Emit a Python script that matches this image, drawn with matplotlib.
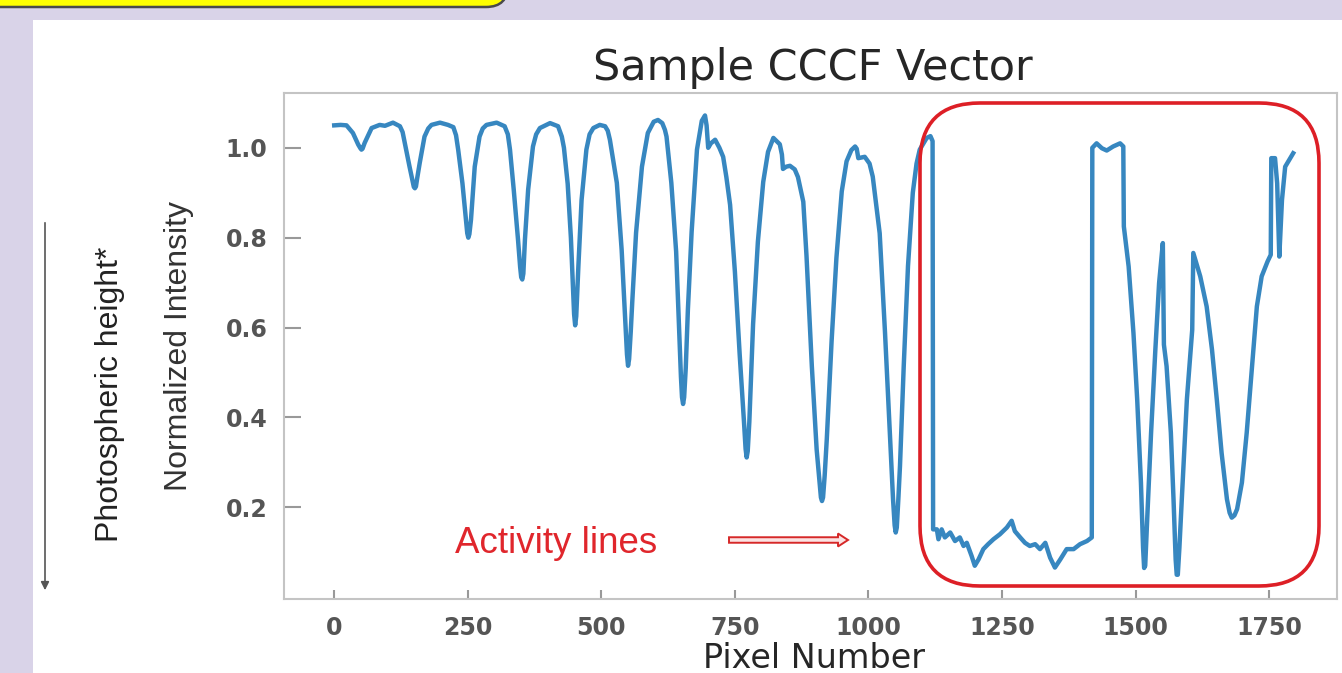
import matplotlib
matplotlib.use("Agg")
import matplotlib.pyplot as plt
from matplotlib.patches import FancyBboxPatch, Rectangle, FancyArrow, FancyArrowPatch

# values
pixel_number = [
    0, 12, 23, 35, 45, 49, 51, 53, 57, 70, 85, 95, 110, 123, 128, 132, 141, 147, 149, 151, 153,
    155, 160, 169, 176, 182,
    198, 213, 223, 228, 232, 240, 247, 249, 251, 253, 256, 263, 272, 278, 285, 304, 319, 325,
    329, 336, 344, 348, 350, 352, 354,
    357, 363, 372, 378, 385, 404, 419, 426, 430, 437, 443, 447, 449, 451, 453, 457, 463, 472,
    478, 485, 497, 507,
    512, 516, 529, 538, 546, 548, 550, 552, 555, 558, 565, 576, 587, 598, 606, 614, 619, 622,
    631, 640, 646, 649, 651, 653, 655, 658, 662, 669, 679, 688, 694, 697, 700, 705, 713, 721,
    728, 734, 741, 750, 759, 767, 770, 772, 774,
    777, 784, 793, 803, 812, 822, 834, 838, 840, 846, 853, 862, 868, 878, 884, 894, 903, 909,
    911, 913, 915, 918, 922, 931, 940, 950, 959, 968, 975, 978, 981, 993, 1002, 1008, 1021,
    1031, 1040, 1046, 1049,
    1051, 1053, 1056, 1059, 1066, 1074, 1083, 1090, 1096, 1109, 1116, 1120, 1121,
    1128, 1131, 1137, 1143, 1153, 1162, 1171, 1178, 1184, 1193, 1199, 1206, 1215, 1224, 1234,
    1246, 1259, 1268, 1274, 1284, 1293, 1302, 1312, 1321, 1331, 1340, 1349, 1359, 1371, 1384,
    1396, 1409, 1418, 1419, 1427, 1437, 1446, 1458, 1471, 1477, 1478, 1487, 1496, 1503, 1510,
    1514, 1516, 1518, 1522, 1529, 1537, 1544, 1551, 1553, 1558, 1566, 1571, 1575, 1577, 1579,
    1582, 1587, 1596,
    1606, 1608, 1621, 1633, 1643, 1652, 1661, 1671, 1676, 1680, 1685, 1690, 1699, 1708, 1718,
    1727, 1736, 1747, 1753, 1754, 1761, 1765, 1769, 1774, 1780, 1795,
]
intensity = [
    1.050, 1.051, 1.050, 1.033, 1.007, 0.999, 0.996, 0.998, 1.011, 1.044, 1.051, 1.049, 1.056,
    1.048, 1.035, 1.011, 0.958, 0.925, 0.913, 0.910, 0.914, 0.930, 0.966, 1.025, 1.043, 1.051,
    1.056, 1.051, 1.046, 1.028, 0.996, 0.921, 0.833, 0.810, 0.800, 0.808, 0.840, 0.958, 1.025,
    1.043, 1.051, 1.056, 1.048, 1.030, 0.996, 0.907, 0.796, 0.735, 0.712, 0.707, 0.720,
    0.796, 0.907, 1.003, 1.030, 1.044, 1.055, 1.048, 1.025, 1.000, 0.920, 0.800, 0.690, 0.630,
    0.605, 0.625, 0.736, 0.884, 0.996, 1.030, 1.044, 1.051, 1.048,
    1.038, 1.018, 0.922, 0.773, 0.589, 0.540, 0.515, 0.530, 0.590, 0.660, 0.811, 0.958, 1.033,
    1.058, 1.062, 1.055, 1.040, 1.025, 0.922, 0.769, 0.584, 0.490, 0.445, 0.430, 0.445, 0.510,
    0.640, 0.813, 0.996, 1.060, 1.072, 1.050, 1.000, 1.010, 1.018, 1.000, 0.980, 0.935, 0.873,
    0.724, 0.539, 0.390, 0.330, 0.311, 0.325,
    0.390, 0.607, 0.791, 0.924, 0.991, 1.022, 1.008, 0.985, 0.953, 0.958, 0.960, 0.952, 0.935,
    0.880, 0.760, 0.514, 0.329, 0.250, 0.222, 0.214, 0.222, 0.270, 0.352, 0.570, 0.755, 0.903,
    0.970, 0.995, 1.003, 0.998, 0.977, 0.980, 0.965, 0.936, 0.810, 0.588, 0.366, 0.218, 0.160,
    0.144, 0.155, 0.220, 0.292, 0.514, 0.737, 0.900, 0.965, 0.996, 1.022, 1.026, 1.015, 0.151,
    0.151, 0.129, 0.151, 0.133, 0.144, 0.125, 0.133, 0.114, 0.121, 0.092, 0.070, 0.084, 0.107,
    0.118, 0.129,
    0.140, 0.155, 0.170, 0.147, 0.133, 0.121, 0.114, 0.118, 0.107, 0.121, 0.088, 0.066, 0.084,
    0.107, 0.107,
    0.118, 0.125, 0.133, 1.000, 1.010, 0.999, 0.994, 1.003, 1.010, 1.003, 0.825, 0.736, 0.588,
    0.440, 0.255,
    0.110, 0.065, 0.070, 0.181, 0.366, 0.551, 0.699, 0.788, 0.562, 0.514, 0.366, 0.218, 0.084,
    0.050, 0.050, 0.110, 0.230, 0.440,
    0.595, 0.766, 0.714, 0.647, 0.551, 0.440, 0.321, 0.218, 0.188, 0.177, 0.182, 0.196, 0.255,
    0.366, 0.514,
    0.647, 0.714, 0.747, 0.762, 0.977, 0.977, 0.921, 0.758, 0.884, 0.958, 0.988,
]
x_ticks = [0, 250, 500, 750, 1000, 1250, 1500, 1750]
y_ticks = [0.2, 0.4, 0.6, 0.8, 1.0]

W, H = 1342, 673
fig = plt.figure(figsize=(W / 100, H / 100), dpi=100, facecolor="#d9d3e8")
inch = fig.dpi_scale_trans

# slide pieces behind the chart
fig.patches.append(Rectangle((0.33, -0.1), 13.3, 6.63, transform=inch,
                             facecolor="white", edgecolor="none", zorder=-5))
fig.patches.append(FancyBboxPatch((-0.3, 6.66), 5.38, 0.6, transform=inch,
                                  boxstyle="round,pad=0,rounding_size=0.22",
                                  facecolor="#ffff00", edgecolor="#4a4a4a", lw=1.8, zorder=-4))

ax = fig.add_axes([284 / W, 1 - 599 / H, (1337 - 284) / W, (599 - 93) / H])
ax.plot(pixel_number, intensity, color="#3787c0", lw=3.2, solid_joinstyle="round")
ax.set_xlim(-94, 1877)
ax.set_ylim(-0.004, 1.122)
ax.set_xticks(x_ticks)
ax.set_yticks(y_ticks)
ax.set_yticklabels([f"{v:.1f}" for v in y_ticks])
for s in ax.spines.values():
    s.set_color("#c4c4c4")
    s.set_linewidth(1.5)
ax.tick_params(direction="in", colors="#999999", labelcolor="#555555", width=1.5,
               labelsize=17)
ax.tick_params(axis="x", length=6.5, pad=12)
ax.tick_params(axis="y", length=12, pad=12)
for lab in ax.get_xticklabels() + ax.get_yticklabels():
    lab.set_fontweight("bold")

# titles and labels
fig.text(8.13, 5.93, "Sample CCCF Vector", transform=inch, ha="center", va="baseline",
         fontsize=31, color="#262626")
fig.text(8.14, 0.05, "Pixel Number", transform=inch, ha="center", va="baseline",
         fontsize=24, color="#262626")
fig.text(1.79, 3.27, "Normalized Intensity", transform=inch, ha="center", va="center",
         rotation=90, fontsize=23, family="Liberation Sans", color="#333333")
fig.text(1.10, 2.79, "Photospheric height*", transform=inch, ha="center", va="center",
         rotation=90, fontsize=23, family="Liberation Sans", color="#222222")
fig.text(5.565, 1.20, "Activity lines", transform=inch, ha="center", va="baseline",
         fontsize=26.5, family="Liberation Sans", color="#e0262c")

# annotations on top
fig.patches.append(FancyBboxPatch((9.20, 0.87), 3.99, 4.83, transform=inch,
                                  boxstyle="round,pad=0,rounding_size=0.6",
                                  facecolor="none", edgecolor="#dd1f26", lw=2.6, zorder=5))
fig.patches.append(FancyArrow(7.29, 1.33, 1.19, 0, width=0.055, head_width=0.13,
                              head_length=0.1, length_includes_head=True, transform=inch,
                              facecolor="#fbe3e3", edgecolor="#d62828", lw=1.4, zorder=5))
fig.patches.append(FancyArrowPatch((0.45, 4.53), (0.45, 0.80), transform=inch,
                                   arrowstyle="-|>", mutation_scale=12, color="#555555",
                                   lw=1.2, zorder=5))

fig.savefig("out.png", dpi=100, facecolor=fig.get_facecolor())
